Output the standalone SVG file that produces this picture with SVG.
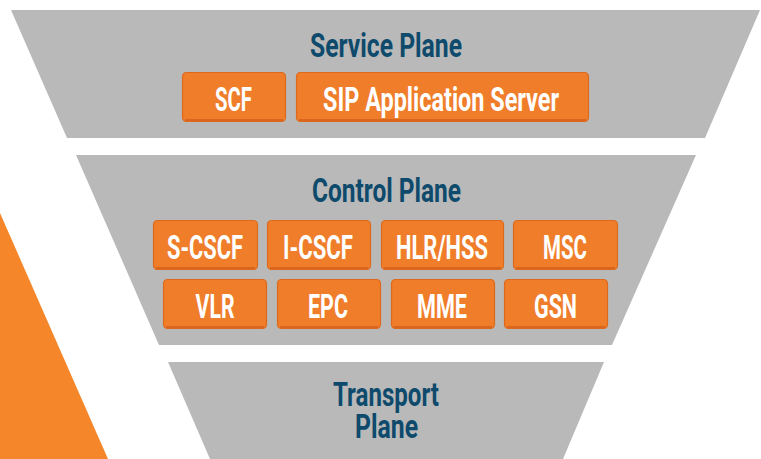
<svg xmlns="http://www.w3.org/2000/svg" width="761" height="459" viewBox="0 0 761 459">
  <defs>
    <linearGradient id="hl" x1="0" y1="0" x2="1" y2="0">
      <stop offset="0" stop-color="#f9b27a"/>
      <stop offset="0.7" stop-color="#f6a263"/>
      <stop offset="1" stop-color="#f08a3c"/>
    </linearGradient>
    <linearGradient id="hlv" x1="0" y1="0" x2="0" y2="1">
      <stop offset="0" stop-color="#f9b27a"/>
      <stop offset="1" stop-color="#f39553"/>
    </linearGradient>
  </defs>
  <style>
    .plane { fill: #b9b9b9; }
    .accent { fill: #f58629; }
    .title { font-family: Roboto, "Liberation Sans", sans-serif; font-weight: 700; font-size: 34px; fill: #0e4a6c; text-anchor: middle; }
    .title-sm { font-size: 33px; }
    .box { fill: #ef7d2a; stroke: #dd6a1c; stroke-width: 1.2; }
    .shade { fill: none; stroke: #d9661c; stroke-width: 2; }
    .hl { fill: none; stroke: url(#hl); stroke-width: 1.4; }
    .hlv { fill: none; stroke: url(#hlv); stroke-width: 1.4; }
    .lbl { font-family: Roboto, "Liberation Sans", sans-serif; font-weight: 700; font-size: 33px; fill: #ffffff; text-anchor: middle; }
  </style>

  <rect width="761" height="459" fill="#ffffff"/>

  <!-- orange wedge at the left edge -->
  <polygon class="accent" points="0,213 108,459 0,459"/>

  <!-- planes -->
  <polygon class="plane" points="11,10 760,10 705,138 67,138"/>
  <polygon class="plane" points="76,155 696,155 612,345 159,345"/>
  <polygon class="plane" points="168,362 604,362 563,459 210,459"/>

  <g id="service-plane-title">
    <text class="title" x="386" y="57" textLength="152" lengthAdjust="spacingAndGlyphs">Service Plane</text>
  </g>
  <g id="control-plane-title">
    <text class="title" x="386.5" y="202" textLength="149" lengthAdjust="spacingAndGlyphs">Control Plane</text>
  </g>
  <g id="transport-plane-title">
    <text class="title title-sm"><tspan x="386" y="406" textLength="106" lengthAdjust="spacingAndGlyphs">Transport</tspan><tspan x="386.5" y="438" textLength="63" lengthAdjust="spacingAndGlyphs">Plane</tspan></text>
  </g>

  <!-- service plane nodes -->
  <g id="scf">
    <rect class="box" x="182.5" y="72.5" width="103" height="49" rx="4"/>
    <path class="shade" d="M185,120 H283"/>
    <path class="hl" d="M188,78 H281"/>
    <path class="hlv" d="M188,78 V116"/>
    <text class="lbl" x="233.5" y="111" textLength="37" lengthAdjust="spacingAndGlyphs">SCF</text>
  </g>
  <g id="sip-as">
    <rect class="box" x="296.5" y="72.5" width="292" height="49" rx="4"/>
    <path class="shade" d="M299,120 H586"/>
    <path class="hl" d="M302,78 H584"/>
    <path class="hlv" d="M302,78 V116"/>
    <text class="lbl" x="441" y="111" textLength="236" lengthAdjust="spacingAndGlyphs">SIP Application Server</text>
  </g>

  <!-- control plane nodes, row 1 -->
  <g id="s-cscf">
    <rect class="box" x="153.5" y="220.5" width="104" height="49" rx="4"/>
    <path class="shade" d="M156,268 H255"/>
    <path class="hl" d="M159,226 H253"/>
    <path class="hlv" d="M159,226 V264"/>
    <text class="lbl" x="205" y="259" textLength="76" lengthAdjust="spacingAndGlyphs">S-CSCF</text>
  </g>
  <g id="i-cscf">
    <rect class="box" x="267.5" y="220.5" width="103" height="49" rx="4"/>
    <path class="shade" d="M270,268 H368"/>
    <path class="hl" d="M273,226 H366"/>
    <path class="hlv" d="M273,226 V264"/>
    <text class="lbl" x="318" y="259" textLength="70" lengthAdjust="spacingAndGlyphs">I-CSCF</text>
  </g>
  <g id="hlr-hss">
    <rect class="box" x="381.5" y="220.5" width="122" height="49" rx="4"/>
    <path class="shade" d="M384,268 H501"/>
    <path class="hl" d="M387,226 H499"/>
    <path class="hlv" d="M387,226 V264"/>
    <text class="lbl" x="442" y="259" textLength="92" lengthAdjust="spacingAndGlyphs">HLR/HSS</text>
  </g>
  <g id="msc">
    <rect class="box" x="513.5" y="220.5" width="104" height="49" rx="4"/>
    <path class="shade" d="M516,268 H615"/>
    <path class="hl" d="M519,226 H613"/>
    <path class="hlv" d="M519,226 V264"/>
    <text class="lbl" x="565" y="259" textLength="44" lengthAdjust="spacingAndGlyphs">MSC</text>
  </g>

  <!-- control plane nodes, row 2 -->
  <g id="vlr">
    <rect class="box" x="163.5" y="279.5" width="103" height="49" rx="4"/>
    <path class="shade" d="M166,327 H264"/>
    <path class="hl" d="M169,285 H262"/>
    <path class="hlv" d="M169,285 V323"/>
    <text class="lbl" x="215" y="318" textLength="39" lengthAdjust="spacingAndGlyphs">VLR</text>
  </g>
  <g id="epc">
    <rect class="box" x="277.5" y="279.5" width="103" height="49" rx="4"/>
    <path class="shade" d="M280,327 H378"/>
    <path class="hl" d="M283,285 H376"/>
    <path class="hlv" d="M283,285 V323"/>
    <text class="lbl" x="328" y="318" textLength="40" lengthAdjust="spacingAndGlyphs">EPC</text>
  </g>
  <g id="mme">
    <rect class="box" x="391.5" y="279.5" width="103" height="49" rx="4"/>
    <path class="shade" d="M394,327 H492"/>
    <path class="hl" d="M397,285 H490"/>
    <path class="hlv" d="M397,285 V323"/>
    <text class="lbl" x="442" y="318" textLength="50" lengthAdjust="spacingAndGlyphs">MME</text>
  </g>
  <g id="gsn">
    <rect class="box" x="504.5" y="279.5" width="103" height="49" rx="4"/>
    <path class="shade" d="M507,327 H605"/>
    <path class="hl" d="M510,285 H603"/>
    <path class="hlv" d="M510,285 V323"/>
    <text class="lbl" x="555.5" y="318" textLength="43" lengthAdjust="spacingAndGlyphs">GSN</text>
  </g>

  <!-- no connectors in this diagram -->
  <g id="connectors"/>
</svg>
